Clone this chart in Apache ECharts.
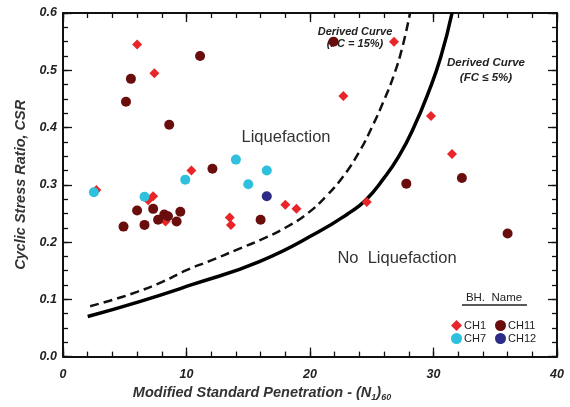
<!DOCTYPE html>
<html>
<head>
<meta charset="utf-8">
<script src="https://cdn.jsdelivr.net/npm/echarts@6/dist/echarts.min.js"></script>
<style>
  html, body { margin: 0; padding: 0; background: #fff; }
  #chart { width: 570px; height: 407px; }
</style>
</head>
<body>
<div id="chart"></div>
<script>
// borehole data: [N1(60), CSR]
var ch1 = [[2.7, 0.291], [6.0, 0.545], [7.4, 0.495], [6.9, 0.273], [7.3, 0.28], [8.3, 0.236],
  [10.4, 0.325], [13.5, 0.243], [13.6, 0.23], [18.0, 0.265], [18.9, 0.258], [22.7, 0.455],
  [24.6, 0.27], [26.8, 0.55], [29.8, 0.42], [31.5, 0.354]]
var ch7 = [[2.5, 0.287], [6.6, 0.279], [9.9, 0.309], [14.0, 0.344], [15.0, 0.301], [16.5, 0.325]]
var ch11 = [[11.1, 0.525], [5.5, 0.485], [5.1, 0.445], [8.6, 0.405], [12.1, 0.328], [16.0, 0.239],
  [4.9, 0.227], [6.0, 0.255], [6.6, 0.23], [7.3, 0.258], [7.7, 0.239], [8.2, 0.248], [8.5, 0.245],
  [9.2, 0.236], [9.5, 0.253], [27.8, 0.302], [32.3, 0.312], [36.0, 0.215], [21.9, 0.55]]
var ch12 = [[16.5, 0.28]]

// derived curves
var curveFC5 = [[2, 0.07], [6.2, 0.096], [10.5, 0.126], [15.9, 0.166], [20.7, 0.218], [23.1, 0.25],
  [24.5, 0.273], [26, 0.312], [27.2, 0.35], [28.4, 0.4], [29.6, 0.462], [30.6, 0.524], [31.5, 0.6]]
var curveFC15 = [[2.2, 0.088], [4, 0.099], [6, 0.113], [8, 0.13], [10, 0.151], [12, 0.168], [14, 0.186],
  [16, 0.204], [18, 0.225], [19.8, 0.25], [21.3, 0.28], [22.7, 0.315], [24, 0.358], [25, 0.4],
  [26, 0.448], [26.8, 0.492], [27.5, 0.542], [28.1, 0.6]]

var chart = echarts.init(document.getElementById('chart'))

var tickFont = { fontFamily: 'Liberation Sans', fontWeight: 'bold', fontStyle: 'italic', fontSize: 12.5, color: '#222' }
var boxLine = { show: true, onZero: false, lineStyle: { color: '#111', width: 2 } }

function xAx(pos, interval, len, main) {
  return {
    type: 'value', position: pos, min: 0, max: 40, interval: interval,
    axisLine: main ? boxLine : { show: false, onZero: false },
    axisTick: { inside: true, length: len, lineStyle: { color: '#111', width: 1.3 } },
    splitLine: { show: false },
    axisLabel: { show: false }
  }
}
function yAx(pos, interval, len, main) {
  return {
    type: 'value', position: pos, min: 0, max: 0.6, interval: interval,
    axisLine: main ? boxLine : { show: false, onZero: false },
    axisTick: { inside: true, length: len, lineStyle: { color: '#111', width: 1.3 } },
    splitLine: { show: false },
    axisLabel: { show: false }
  }
}

var xBottom = xAx('bottom', 10, 9, true)
xBottom.axisLabel = Object.assign({ show: true, margin: 11 }, tickFont)
xBottom.name = '{t|Modified Standard Penetration - (N}{s|1}{t|)}{s|60}'
xBottom.nameLocation = 'middle'
xBottom.nameGap = 27
xBottom.nameTextStyle = {
  padding: [0, 96, 0, 0],
  rich: {
    t: { fontFamily: 'Liberation Sans', fontStyle: 'italic', fontWeight: 'bold', fontSize: 14.5, color: '#333' },
    s: { fontFamily: 'Liberation Sans', fontStyle: 'italic', fontWeight: 'bold', fontSize: 9, color: '#333', padding: [9, 0, 0, 0] }
  }
}

var yLeft = yAx('left', 0.1, 9, true)
yLeft.axisLabel = Object.assign({ show: true, margin: 6, formatter: function (v) { return v.toFixed(1) } }, tickFont)
yLeft.name = 'Cyclic Stress Ratio, CSR'
yLeft.nameLocation = 'middle'
yLeft.nameGap = 32
yLeft.nameTextStyle = { fontFamily: 'Liberation Sans', fontStyle: 'italic', fontWeight: 'bold', fontSize: 14.5, color: '#333' }

function pointSeries(name, data, symbol, color, size) {
  return {
    name: name,
    type: 'scatter',
    data: data,
    symbol: symbol,
    symbolSize: size,
    itemStyle: { color: color, opacity: 1 },
    z: 5
  }
}

function curveSeries(name, data, style) {
  return {
    name: name,
    type: 'line',
    data: data,
    smooth: 0.5,
    showSymbol: false,
    lineStyle: style,
    z: 3
  }
}

var legendText = { fontFamily: 'Liberation Sans', fontSize: 11, color: '#222', padding: [0, 0, 0, -3] }

chart.setOption({
  animation: false,
  grid: { left: 63, right: 13, top: 13, bottom: 50 },
  xAxis: [xBottom, xAx('top', 10, 9, true), xAx('bottom', 2, 5, false), xAx('top', 2, 5, false)],
  yAxis: [yLeft, yAx('right', 0.1, 9, true), yAx('left', 0.025, 5, false), yAx('right', 0.025, 5, false)],
  legend: [{
    data: ['CH1', 'CH11'],
    left: 446,
    top: 315,
    itemWidth: 11,
    itemHeight: 11,
    itemGap: 9,
    textStyle: legendText
  }, {
    data: ['CH7', 'CH12'],
    left: 446,
    top: 328,
    itemWidth: 11,
    itemHeight: 11,
    itemGap: 9,
    textStyle: legendText
  }],
  graphic: [
    { type: 'text', x: 286, y: 137, style: { text: 'Liquefaction', fill: '#333', font: '16.5px "Liberation Sans"', align: 'center', verticalAlign: 'middle' } },
    { type: 'text', x: 397, y: 258, style: { text: 'No  Liquefaction', fill: '#333', font: '16.5px "Liberation Sans"', align: 'center', verticalAlign: 'middle' } },
    { type: 'text', x: 355, y: 38, style: { text: 'Derived Curve\n(FC = 15%)', fill: '#222', font: 'italic bold 11px "Liberation Sans"', align: 'center', verticalAlign: 'middle', lineHeight: 12 } },
    { type: 'text', x: 486, y: 70, style: { text: 'Derived Curve\n(FC \u2264 5%)', fill: '#222', font: 'italic bold 11.5px "Liberation Sans"', align: 'center', verticalAlign: 'middle', lineHeight: 15 } },
    { type: 'text', x: 494, y: 298, style: { text: 'BH.  Name', fill: '#222', font: '11.5px "Liberation Sans"', align: 'center', verticalAlign: 'middle' } },
    { type: 'line', shape: { x1: 462, y1: 305, x2: 527, y2: 305 }, style: { stroke: '#222', lineWidth: 1.5 } }
  ],
  series: [
    curveSeries('FC15', curveFC15, { color: '#111', width: 2.5, type: [9, 5] }),
    curveSeries('FC5', curveFC5, { color: '#000', width: 3.5 }),
    pointSeries('CH1', ch1, 'diamond', '#e8262a', 10),
    pointSeries('CH7', ch7, 'circle', '#2ec0dc', 10),
    pointSeries('CH11', ch11, 'circle', '#6a0d0d', 10),
    pointSeries('CH12', ch12, 'circle', '#2c2b86', 10)
  ]
})
</script>
</body>
</html>
